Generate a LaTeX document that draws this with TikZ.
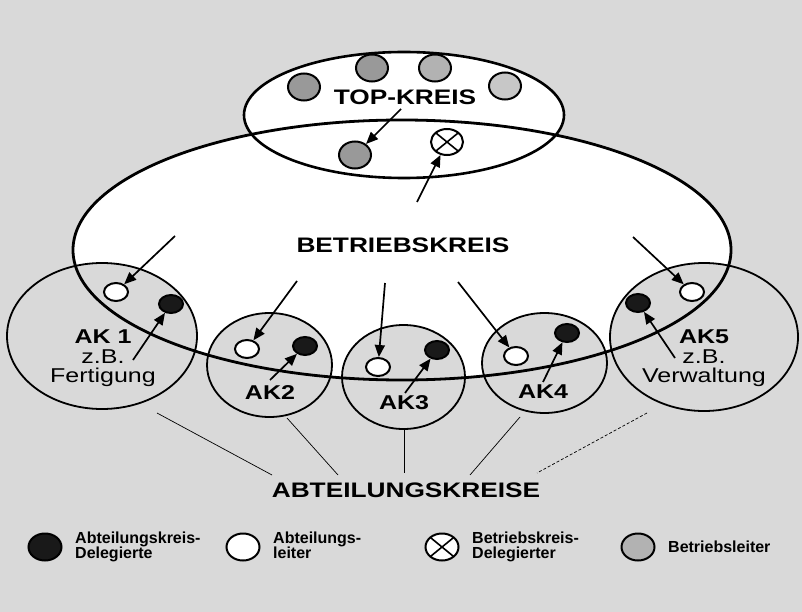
\documentclass[tikz,border=0pt]{standalone}
\usepackage{fontspec}
\setmainfont{Liberation Sans}
\newfontfamily\kreisfont[FakeStretch=1.25]{Liberation Sans}
\usetikzlibrary{shapes.geometric,arrows.meta}

\begin{document}
\begin{tikzpicture}[x=1pt,y=-1pt,
  kreis/.style={ellipse,draw,line width=1.8pt,fill=black!15,inner sep=0pt},
  punkt/.style={ellipse,draw,line width=2pt,inner sep=0pt,minimum width=24,minimum height=18},
  leiter/.style={punkt,fill=white},
  delegiert/.style={punkt,fill=black!90},
  chef/.style={ellipse,draw,line width=2pt,inner sep=0pt,fill=black!40,minimum width=32,minimum height=27},
  kreuz/.style={ellipse,draw,line width=2pt,inner sep=0pt,fill=white,minimum width=32,minimum height=26,
    path picture={\draw[line width=1.6pt] (path picture bounding box.north west) -- (path picture bounding box.south east)
      (path picture bounding box.north east) -- (path picture bounding box.south west);}},
  titel/.style={inner sep=0pt,font=\kreisfont\bfseries\fontsize{21}{21}\selectfont},
  ak/.style={inner sep=0pt,align=center,font=\kreisfont\fontsize{20}{19.5}\selectfont},
  akname/.style={inner sep=0pt,font=\kreisfont\bfseries\fontsize{20}{20}\selectfont},
  legende/.style={inner sep=0pt,align=left,font=\bfseries\fontsize{16}{15}\selectfont},
  pfeil/.style={-{Triangle[length=12pt,width=10pt]},line width=1.7pt},
  linie/.style={line width=0.7pt}]
\fill[black!15] (0,0) rectangle (802,612);
\useasboundingbox (0,0) rectangle (802,612);

\node[ellipse,fill=white,minimum width=658,minimum height=260] (bk) at (402,250) {};
\node[ellipse,draw,line width=2.6pt,fill=white,minimum width=320,minimum height=126] (top) at (404,115) {};

\node[kreis,minimum width=190,minimum height=146] (ak1) at (102,336) {};
\node[kreis,minimum width=125,minimum height=104] (ak2) at (269.5,365) {};
\node[kreis,minimum width=123,minimum height=104] (ak3) at (403.5,377) {};
\node[kreis,minimum width=125,minimum height=100] (ak4) at (544.5,363) {};
\node[kreis,minimum width=188,minimum height=148] (ak5) at (704,337) {};
\draw[line width=2.8pt] (bk.center) ellipse [x radius=329,y radius=130];

\node[chef] (bl1) at (304,87) {};
\node[chef] (bl2) at (372,68) {};
\node[chef,fill=black!30] (bl3) at (435,68) {};
\node[chef,fill=black!22] (bl4) at (505,86) {};
\node[chef] (bl5) at (355,155) {};
\node[kreuz] (bkd) at (447,142) {};

\node[leiter] (ak1w) at (116,292) {};
\node[delegiert] (ak1b) at (171,304) {};
\node[leiter] (ak2w) at (247,349) {};
\node[delegiert] (ak2b) at (305,346) {};
\node[leiter] (ak3w) at (378,367) {};
\node[delegiert] (ak3b) at (437,350) {};
\node[leiter] (ak4w) at (516,356) {};
\node[delegiert] (ak4b) at (567,333) {};
\node[leiter] (ak5w) at (692,292) {};
\node[delegiert] (ak5b) at (638,303) {};

\node[titel] (toptxt) at (405,97) {TOP-KREIS};
\node[titel] (bktxt) at (403,245.5) {BETRIEBSKREIS};
\node[titel] (abtxt) at (406,490) {ABTEILUNGSKREISE};
\node[ak,anchor=north] (ak1txt) at (103,330) {\textbf{AK 1}\\z.B.\\Fertigung};
\node[akname] (ak2txt) at (270,393) {AK2};
\node[akname] (ak3txt) at (404,403) {AK3};
\node[akname] (ak4txt) at (543,392) {AK4};
\node[ak,anchor=north] (ak5txt) at (704,330) {\textbf{AK5}\\z.B.\\Verwaltung};

\coordinate (t0) at (401,109);
\coordinate (t1) at (417,202);
\coordinate (p1) at (175,236);
\coordinate (p2) at (297,281);
\coordinate (p3) at (385,283);
\coordinate (p4) at (458,282);
\coordinate (p5) at (633,237);
\coordinate (q1) at (133,360);
\coordinate (q2) at (270,380);
\coordinate (q3) at (405,393);
\coordinate (q4) at (543,382);
\coordinate (q5) at (675,358);
\draw[pfeil] (t0) -- (bl5);
\draw[pfeil] (t1) -- (bkd);
\draw[pfeil] (p1) -- (ak1w);
\draw[pfeil] (p2) -- (ak2w);
\draw[pfeil] (p3) -- (ak3w);
\draw[pfeil] (p4) -- (ak4w);
\draw[pfeil] (p5) -- (ak5w);
\draw[pfeil] (q1) -- (ak1b);
\draw[pfeil] (q2) -- (ak2b);
\draw[pfeil] (q3) -- (ak3b);
\draw[pfeil] (q4) -- (ak4b);
\draw[pfeil] (q5) -- (ak5b);

\coordinate (s1) at (157,413);
\coordinate (s2) at (287,418);
\coordinate (s3) at (404,428);
\coordinate (s4) at (520,417);
\coordinate (s5) at (647,413);
\coordinate (e1) at (272,475);
\coordinate (e2) at (338,475);
\coordinate (e3) at (404,473);
\coordinate (e4) at (470,475);
\coordinate (e5) at (537,473);
\draw[linie] (s1) -- (e1);
\draw[linie] (s2) -- (e2);
\draw[linie] (s3) -- (e3);
\draw[linie] (s4) -- (e4);
\draw[linie,densely dashed] (s5) -- (e5);

\node[delegiert,minimum width=33,minimum height=27] (lg1) at (45,547) {};
\node[legende,anchor=north west] (lg1txt) at (75,532) {Abteilungskreis-\\Delegierte};
\node[leiter,minimum width=33,minimum height=27] (lg2) at (243,547) {};
\node[legende,anchor=north west] (lg2txt) at (273,532) {Abteilungs-\\leiter};
\node[kreuz,minimum width=33,minimum height=27] (lg3) at (442,547) {};
\node[legende,anchor=north west] (lg3txt) at (472,532) {Betriebskreis-\\Delegierter};
\node[chef,fill=black!30,minimum width=33,minimum height=27] (lg4) at (638,547) {};
\node[legende,anchor=west] (lg4txt) at (668,547) {Betriebsleiter};
\end{tikzpicture}
\end{document}
